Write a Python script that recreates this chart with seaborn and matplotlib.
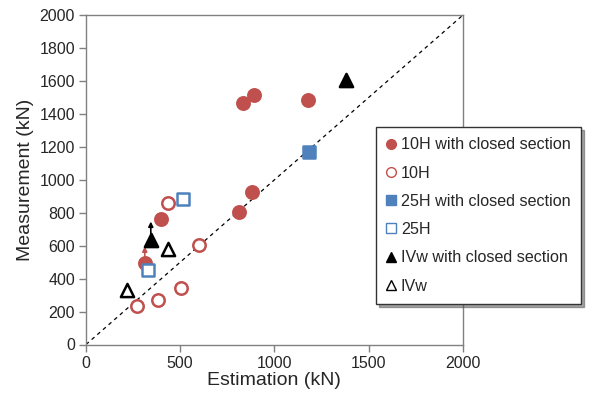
import matplotlib
matplotlib.use("Agg")
import matplotlib.pyplot as plt
import seaborn as sns
import pandas as pd
from matplotlib.lines import Line2D

sns.set_style("white")
plt.rcParams['font.family'] = ['Liberation Sans', 'DejaVu Sans']

# data (kN)
h10c_x = [831, 890, 1179, 879, 810, 397, 312]
h10c_y = [1468, 1515, 1485, 929, 804, 764, 495]
h10_x = [436, 601, 504, 383, 273]
h10_y = [862, 606, 343, 273, 232]
h25c_x = [1183]
h25c_y = [1168]
h25_x = [514, 328]
h25_y = [883, 450]
ivwc_x = [1381, 344]
ivwc_y = [1606, 632]
ivw_x = [438, 216]
ivw_y = [580, 329]
# arrows: start (x, y) -> end y
arrow_red = (312, 495, 596)
arrow_black = (344, 632, 747)

RED = "#C0504D"
BLUE = "#4F81BD"

fig = plt.figure(figsize=(5.99, 4.01), dpi=100)
ax = fig.add_axes([86/599, 1-344.5/401, (462.7-86)/599, (344.5-15.3)/401])

ax.plot([0, 2000], [0, 2000], ls=(0, (3, 3)), color="black", lw=0.9, zorder=1)

for x, y0, y1, c in [(*arrow_red, RED), (*arrow_black, "black")]:
    ax.annotate("", xy=(x, y1), xytext=(x, y0),
                arrowprops=dict(arrowstyle="-|>", color=c, lw=1.2,
                                mutation_scale=7, shrinkA=0, shrinkB=0), zorder=2)

series = [
    ("10H with closed section", h10c_x, h10c_y, "o", RED, RED),
    ("10H", h10_x, h10_y, "o", "white", RED),
    ("25H with closed section", h25c_x, h25c_y, "s", BLUE, BLUE),
    ("25H", h25_x, h25_y, "s", "white", BLUE),
    ("IVw with closed section", ivwc_x, ivwc_y, "^", "black", "black"),
    ("IVw", ivw_x, ivw_y, "^", "white", "black"),
]
for name, xs, ys, m, fc, ec in series:
    df = pd.DataFrame({"x": xs, "y": ys})
    sns.scatterplot(data=df, x="x", y="y", ax=ax, marker=m, s=80 if m != "^" else 90,
                    facecolor=fc, edgecolor=ec, linewidth=1.8, zorder=3, legend=False)

ax.set_xlim(0, 2000)
ax.set_ylim(0, 2000)
ax.set_xticks(range(0, 2001, 500))
ax.set_yticks(range(0, 2001, 200))
ax.tick_params(axis="both", direction="out", length=5, width=1, color="#808080",
               labelsize=11.5, pad=3, bottom=True, left=True)
for s in ax.spines.values():
    s.set_color("#808080")
    s.set_linewidth(1)
ax.set_xlabel("Estimation (kN)", fontsize=14, labelpad=1)
ax.set_ylabel("Measurement (kN)", fontsize=14, labelpad=4)

handles = [Line2D([], [], ls="none", marker=m, markersize=7, markerfacecolor=fc,
                  markeredgecolor=ec, markeredgewidth=1.0)
           for name, xs, ys, m, fc, ec in series]
labels = [s[0] for s in series]
leg = fig.legend(handles, labels, loc="upper left", bbox_to_anchor=(376/599, 1-127/401),
                 frameon=True, fancybox=False, shadow=True, fontsize=11.6,
                 handlelength=0.6, handletextpad=0.3, labelspacing=0.82,
                 borderpad=0.65, borderaxespad=0)
leg.get_frame().set_edgecolor("#333333")
leg.get_frame().set_linewidth(1)

fig.savefig("out.png", dpi=100)
